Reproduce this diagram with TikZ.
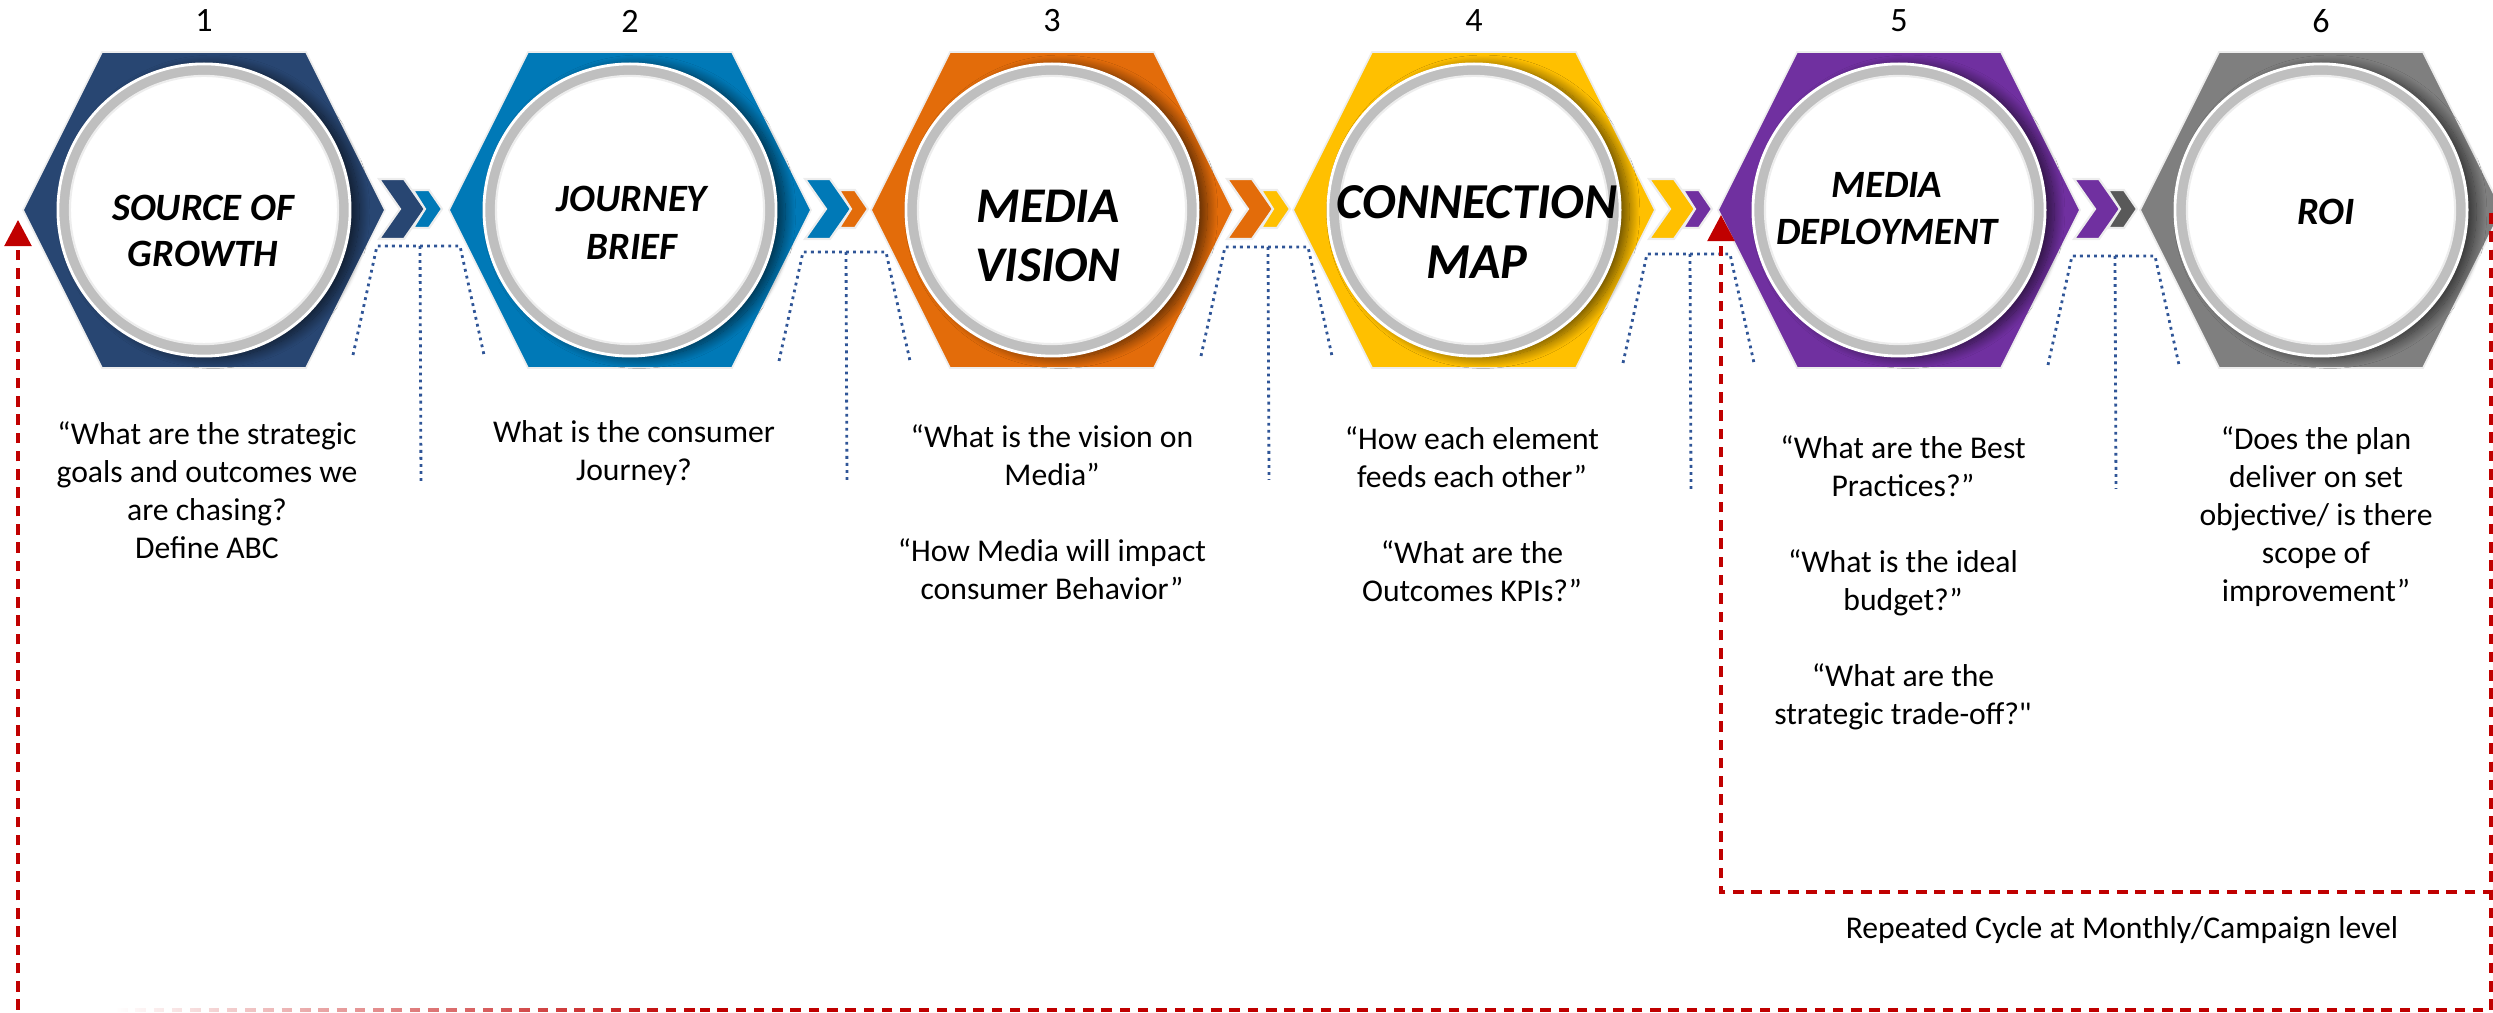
\documentclass[tikz,border=0pt]{standalone}
\usepackage{fontspec}
\setmainfont{Carlito}
\newfontfamily\rawcarlito{Carlito}
\usetikzlibrary{arrows.meta,shadows.blur,fadings}

\definecolor{hexA}{HTML}{284672}
\definecolor{hexB}{HTML}{0079B7}
\definecolor{hexC}{HTML}{E36C0A}
\definecolor{hexD}{HTML}{FFC000}
\definecolor{hexE}{HTML}{7030A0}
\definecolor{hexF}{HTML}{7F7F7F}
\definecolor{chevgray}{HTML}{595959}
\definecolor{ringgray}{HTML}{BFBFBF}
\definecolor{bracketblue}{HTML}{2F5597}
\definecolor{loopred}{HTML}{C00000}

\tikzfading[name=fadein, left color=transparent!100, right color=transparent!0]

\begin{document}
\begin{tikzpicture}[x=0.01cm, y=-0.01cm,
  hexedge/.style={draw=white!93!black, line width=0.5pt},
  ring/.style={circle, minimum size=2.92cm, inner sep=0pt, fill=ringgray,
    draw=white, line width=0.8pt,
    blur shadow={shadow xshift=2.6pt, shadow yshift=-0.5pt,
      shadow blur radius=3pt, shadow blur steps=18, shadow opacity=60}},
  core/.style={circle, minimum size=2.68cm, inner sep=0pt, fill=white,
    draw=black!7, line width=0.6pt},
  chevedge/.style={draw=white!93!black, line width=0.6pt},
  bracket/.style={draw=bracketblue, line width=0.8pt, dash pattern=on 0.8pt off 1.2pt},
  loopline/.style={draw=loopred, line width=0.9pt, dash pattern=on 3pt off 2.2pt},
  looptip/.style={-{Triangle[length=7.4pt,width=7.6pt]}},
  stagenum/.style={inner sep=0pt, font=\fontsize{9.7pt}{11pt}\selectfont},
  question/.style={align=center, inner sep=0pt, anchor=north,
    font=\fontsize{9pt}{10.8pt}\selectfont},
  title/.style={align=center, inner sep=0pt, font=\bfseries\itshape}
]
\useasboundingbox (0,0) rectangle (2493,1013);

% hexagonal stages with their rings and step numbers
\foreach \n/\cx/\col in {1/204/hexA, 2/630/hexB, 3/1052/hexC, 4/1474/hexD, 5/1899/hexE, 6/2321/hexF}{
  \filldraw[fill=\col, hexedge] (\cx-181,210) -- (\cx-102,52) -- (\cx+102,52)
    -- (\cx+181,210) -- (\cx+102,368) -- (\cx-102,368) -- cycle;
  \node[ring] (ring\n) at (\cx,210) {};
  \node[core] (core\n) at (\cx,210) {};
  \node[stagenum] (num\n) at (\cx,21) {\n};
}

% double chevrons between the stages
\foreach \R/\bigc/\smallc in {385/hexA/hexB, 811/hexB/hexC, 1233/hexC/hexD, 1655/hexD/hexE, 2080/hexE/chevgray}{
  \filldraw[fill=\bigc, chevedge] (\R-6,179) -- (\R+19,179) -- (\R+40,209)
    -- (\R+19,239) -- (\R-6,239) -- (\R+15,209) -- cycle;
  \filldraw[fill=\smallc, chevedge] (\R+28,190) -- (\R+44,190) -- (\R+57,209)
    -- (\R+44,228) -- (\R+28,228) -- (\R+40,209) -- cycle;
}

% dotted brackets under the chevrons
\foreach \R/\T/\B in {385/246/482, 811/252/484, 1233/247/480, 1655/254/490, 2080/256/489}{
  \draw[bracket] (\R-32,\T+109) -- (\R-8,\T) -- (\R+75,\T) -- (\R+99,\T+109);
  \draw[bracket] (\R+35,\T) -- (\R+36,\B);
}

% stage titles
\node[title, font=\bfseries\itshape\fontsize{11pt}{13.1pt}\selectfont] (t1) at (203,231) {SOURCE OF\\GROWTH};
\node[title, font=\bfseries\itshape\fontsize{11pt}{13.6pt}\selectfont] (t2) at (632,223) {JOURNEY\\BRIEF};
\node[title, font=\bfseries\itshape\fontsize{14.2pt}{16.5pt}\selectfont] (t3) at (1048,236) {MEDIA\\VISION};
\node[title, font=\bfseries\itshape\fontsize{14.3pt}{17pt}\selectfont] (t4) at (1477,232) {CONNECTION\\MAP};
\node[title, font=\bfseries\itshape\fontsize{11pt}{13.4pt}\selectfont] (t5) at (1887,209) {MEDIA\\DEPLOYMENT};
\node[title, font=\bfseries\itshape\fontsize{11pt}{12pt}\selectfont] (t6) at (2326,212) {ROI};

% guiding questions
\node[question] (q1) at (207,421) {“What are the strategic\\goals and outcomes we\\are chasing?\\Define ABC};
\node[question] (q2) at (634,420) {What is the consumer\\Journey?};
\node[question] (q3) at (1052,424) {“What is the vision on\\Media”\\[10.8pt]“How Media will impact\\consumer Behavior”};
\node[question] (q4) at (1472,426) {“How each element\\feeds each other”\\[10.8pt]“What are the\\Outcomes KPIs?”};
\node[question] (q5) at (1903,435) {“What are the Best\\Practices?”\\[10.8pt]“What is the ideal\\budget?”\\[10.8pt]“What are the\\strategic trade-off?{\rawcarlito"}};
\node[question] (q6) at (2316,426) {“Does the plan\\deliver on set\\objective/ is there\\scope of\\improvement”};

\node[question, anchor=center] (cycle) at (2122,930) {Repeated Cycle at Monthly/Campaign level};

% feedback loops
\coordinate (back6) at (2491,213);
\coordinate (in5) at (1721,215);
\coordinate (in1) at (18,220);
\coordinate (turn5) at (1721,892);
\coordinate (low6) at (2491,1010);
\coordinate (lowmid) at (700,1010);
\coordinate (lowfade) at (117,1010);
\coordinate (low1) at (18,1010);

\draw[loopline, looptip] (back6) |- (turn5) -- (in5);
\draw[loopline] (back6) -- (low6) -- (lowmid);
\draw[loopline, path fading=fadein] (lowfade) -- (lowmid);
\draw[loopline, looptip] (low1) -- (in1);
\end{tikzpicture}
\end{document}
